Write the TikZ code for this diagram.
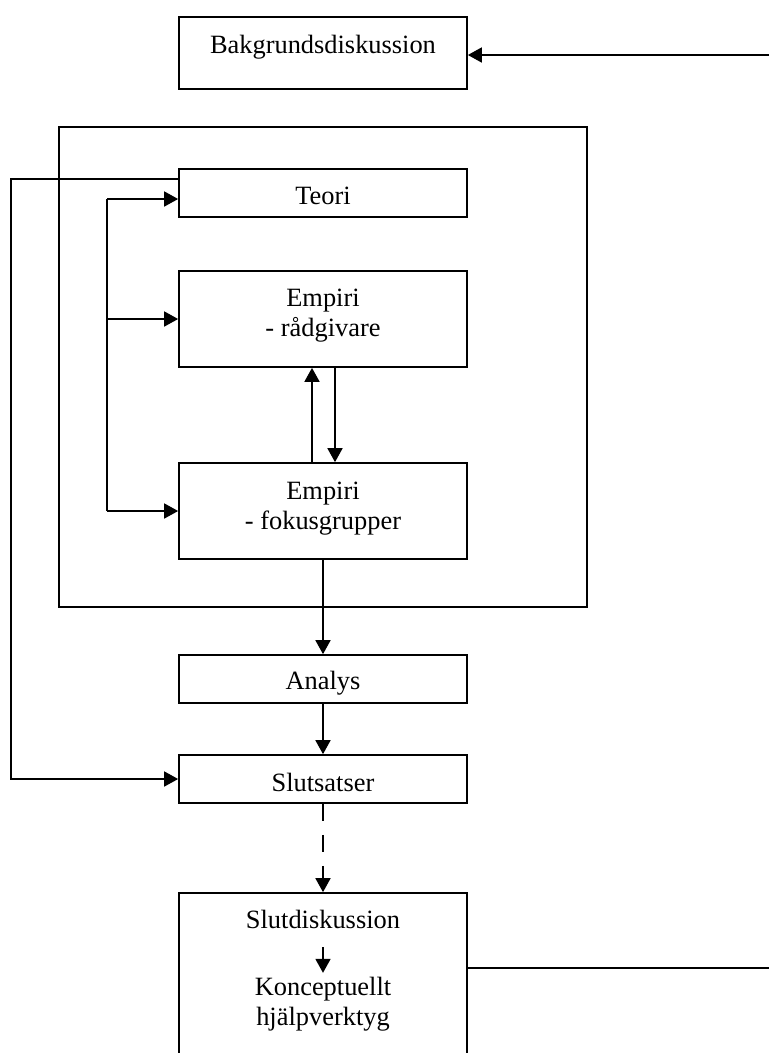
\documentclass[tikz,border=0pt]{standalone}
\usepackage{fontspec}
\setmainfont{Liberation Serif}
\usetikzlibrary{arrows.meta}
\begin{document}
\begin{tikzpicture}[x=1pt,y=-1pt,
  line width=1.7pt,
  box/.style={draw, rectangle, minimum width=288pt, inner sep=0pt},
  lbl/.style={font=\fontsize{26.4}{30}\selectfont, anchor=base, inner sep=0pt, align=center},
  arr/.style={-{Triangle[length=14pt,width=15pt]}},
]
\useasboundingbox (0,0) rectangle (769,1053);
\clip (0,0) rectangle (769,1053);

% boxes
\node[box, minimum height=72pt] (bak) at (323,53) {};
\node[draw, rectangle, inner sep=0pt, minimum width=528pt, minimum height=480pt] (outer) at (323,367) {};
\node[box, minimum height=48pt] (teori) at (323,193) {};
\node[box, minimum height=96pt] (emp1) at (323,319) {};
\node[box, minimum height=96pt] (emp2) at (323,511) {};
\node[box, minimum height=48pt] (analys) at (323,679) {};
\node[box, minimum height=48pt] (slutsats) at (323,779) {};
\node[box, minimum height=220pt] (slutd) at (323,1003) {};

% texts (base anchor = baseline of the last line)
\node[lbl] (bakt) at (323,53) {Bakgrundsdiskussion};
\node[lbl] (teorit) at (323,204) {Teori};
\node[lbl] (emp1t) at (323,336) {Empiri\\- rådgivare};
\node[lbl] (emp2t) at (323,529) {Empiri\\- fokusgrupper};
\node[lbl] (analyst) at (323,689) {Analys};
\node[lbl] (slutsatst) at (323,791) {Slutsatser};
\node[lbl] (sdt) at (323,928) {Slutdiskussion};
\node[lbl] (kt) at (323,1025) {Konceptuellt\\hjälpverktyg};

% right side connectors
\coordinate (rtop) at (769,55);
\coordinate (rbot) at (769,968);
\draw[arr] (rtop) -- (rtop -| bak.east);
\draw (rbot -| slutd.east) -- (rbot);

% feedback from Teori to Slutsatser
\coordinate (fb) at (11,179);
\draw[arr] (fb -| teori.west) -- (fb) |- (slutsats.west);

% bracket
\coordinate (bt) at (107,199);
\coordinate (bb) at (107,511);
\draw (bt) -- (bb);
\draw[arr] (bt) -- (bt -| teori.west);
\draw[arr] (bt |- emp1.west) -- (emp1.west);
\draw[arr] (bb) -- (emp2.west);

% between empiri boxes
\coordinate (ux) at (312,0);
\coordinate (dx) at (335,0);
\draw[arr] (ux |- emp2.north) -- (ux |- emp1.south);
\draw[arr] (dx |- emp1.south) -- (dx |- emp2.north);

% main flow
\draw[arr] (emp2.south) -- (analys.north);
\draw[arr] (analys.south) -- (slutsats.north);
\draw[arr, dash pattern=on 17pt off 14pt] (slutsats.south) -- (slutd.north);
\draw[arr] ([yshift=-19pt]sdt.base) -- ([yshift=3pt]kt.north);
\end{tikzpicture}
\end{document}
